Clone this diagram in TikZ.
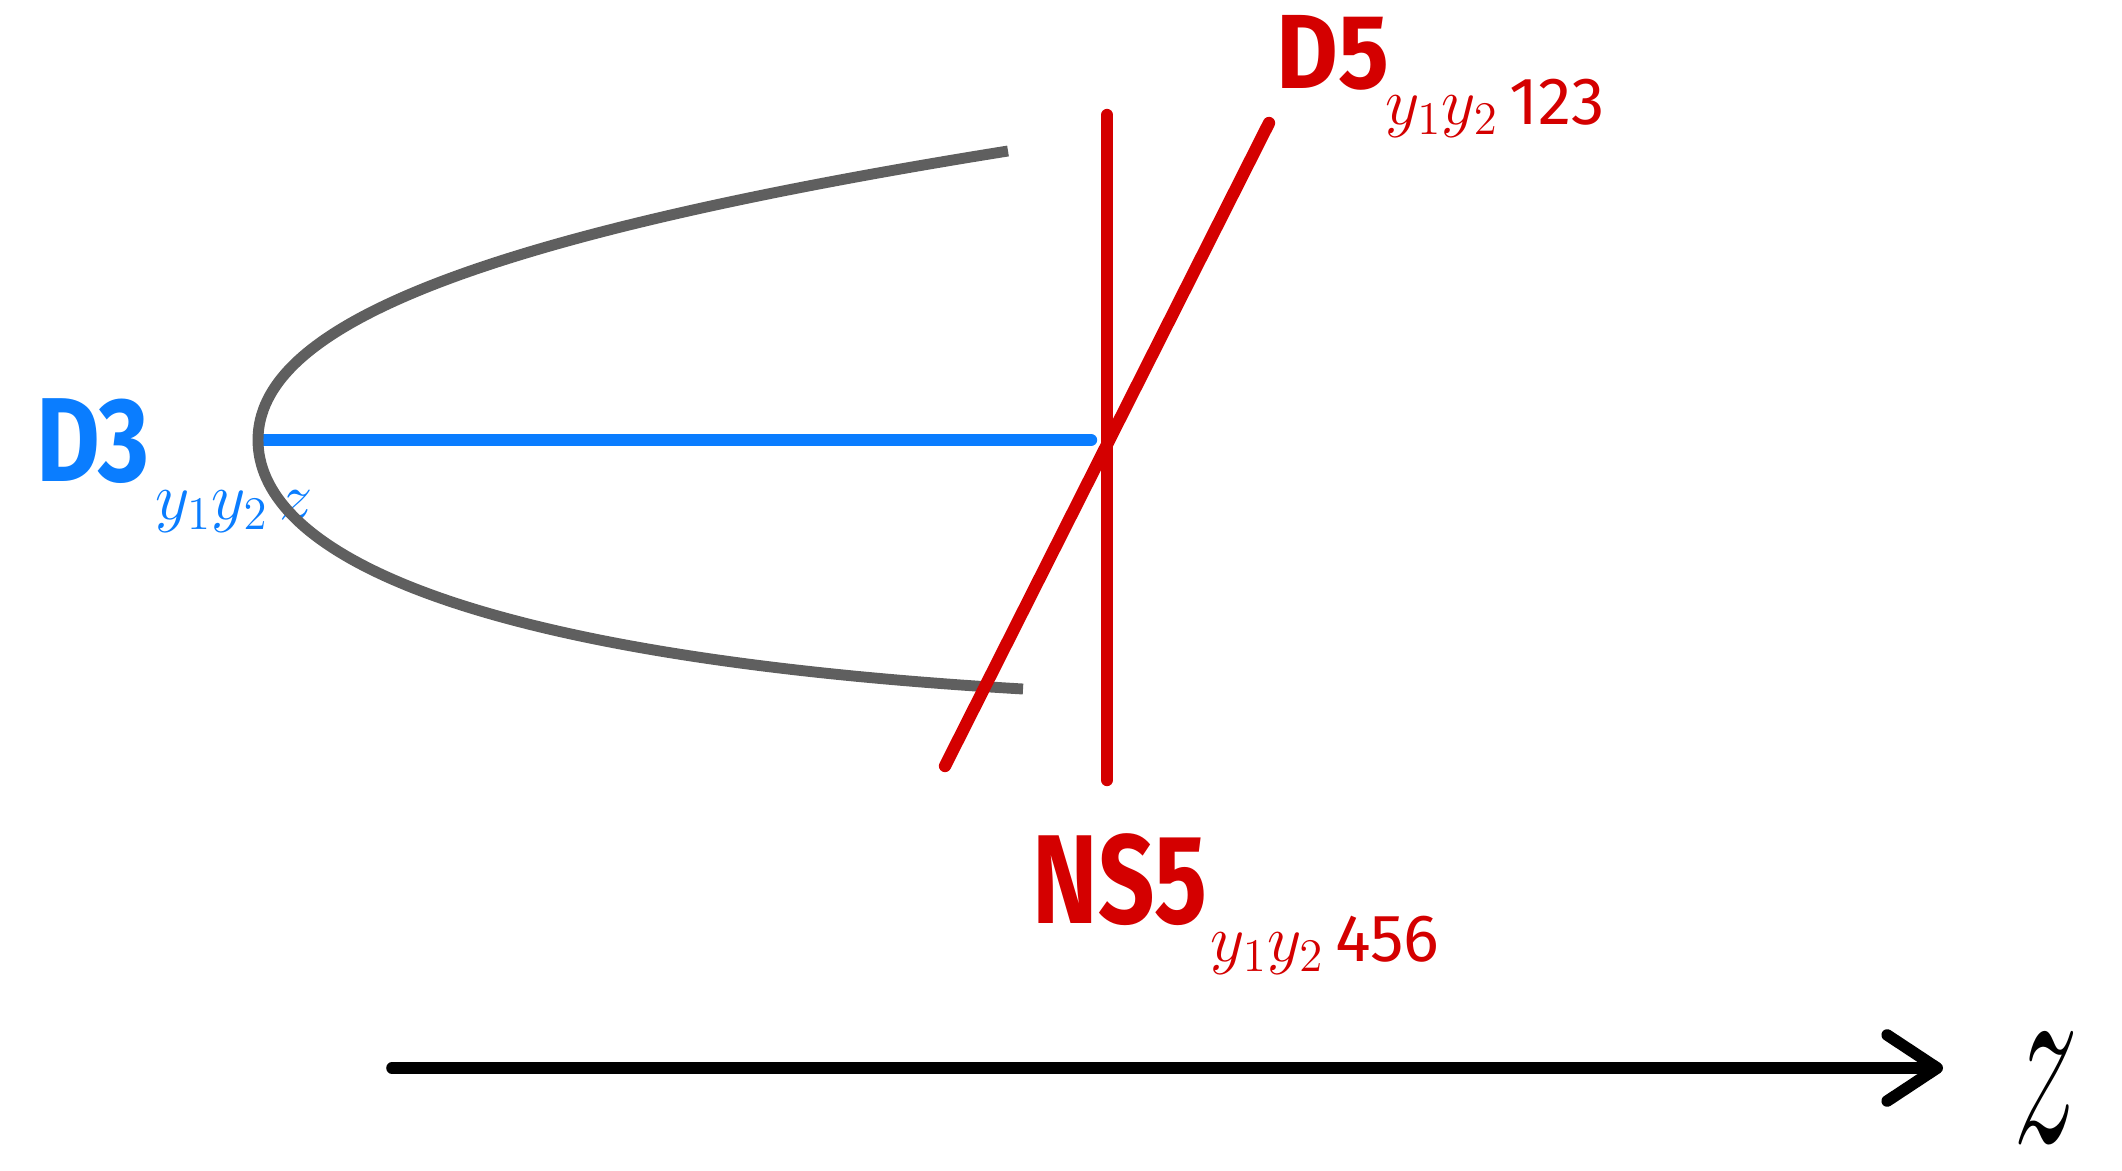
\RequirePackage{fix-cm}
\documentclass[tikz,border=0pt]{standalone}
\usepackage{fontspec}
\setmainfont{Fira Sans}
\usetikzlibrary{arrows.meta}
\definecolor{bred}{HTML}{D40000}
\definecolor{bblue}{HTML}{0A7DFF}
\definecolor{bgray}{HTML}{5F5F5F}
\begin{document}
\begin{tikzpicture}[x=0.01cm,y=-0.01cm,
  line cap=round, line join=round,
  bigname/.style={inner sep=0pt, font=\fontsize{34}{36}\selectfont\bfseries},
  subname/.style={inner sep=0pt, font=\fontsize{19}{21}\selectfont},
  braneline/.style={line width=3.5pt},
  curveline/.style={line width=3.1pt, draw=bgray, line cap=butt},
  axisline/.style={line width=3.3pt, black}]
\useasboundingbox (0,0) rectangle (2122,1170);

% labels
\node[bigname, text=bblue] (d3lab) at (93,441) {\scalebox{0.82}[1]{D3}};
\node[subname, text=bblue] (d3sub) at (234,512) {$y_1y_2\,z$};
\node[bigname, text=bred, font=\fontsize{30}{32}\selectfont\bfseries] (d5lab) at (1333,53) {\scalebox{0.9}[1]{D5}};
\node[subname, text=bred] (d5sub) at (1495,108) {$y_1y_2$\,123};
\node[bigname, text=bred, font=\fontsize{36}{38}\selectfont\bfseries] (ns5lab) at (1120,880) {\scalebox{0.78}[1]{NS5}};
\node[subname, text=bred] (ns5sub) at (1325,945) {$y_1y_2$\,456};
\node[inner sep=0pt, font=\fontsize{64}{64}\selectfont] (zlab) at (2046,1088) {\scalebox{0.58}[1.12]{$z$}};

% D3 brane
\coordinate (d3a) at (263,440);
\coordinate (d3b) at (1091,440);
\draw[braneline, bblue] (d3a) -- (d3b);

% curved shape
\draw[curveline] (1008,151) .. controls (458,239) and (258,330) .. (258,440)
                 .. controls (258,540) and (423,654) .. (1023,689);

% NS5 brane (vertical)
\coordinate (ns5t) at (1107,115);
\coordinate (ns5b) at (1107,780);
\draw[braneline, bred] (ns5t) -- (ns5b);

% D5 brane (diagonal)
\coordinate (d5b) at (945,766);
\coordinate (d5t) at (1269,123);
\draw[braneline, bred] (d5b) -- (d5t);

% axis
\coordinate (axa) at (392,1068);
\coordinate (axb) at (1943,1068);
\draw[axisline, -{Straight Barb[length=5mm,width=6.6mm,line cap=round,line join=round]}] (axa) -- (axb);
\end{tikzpicture}
\end{document}
